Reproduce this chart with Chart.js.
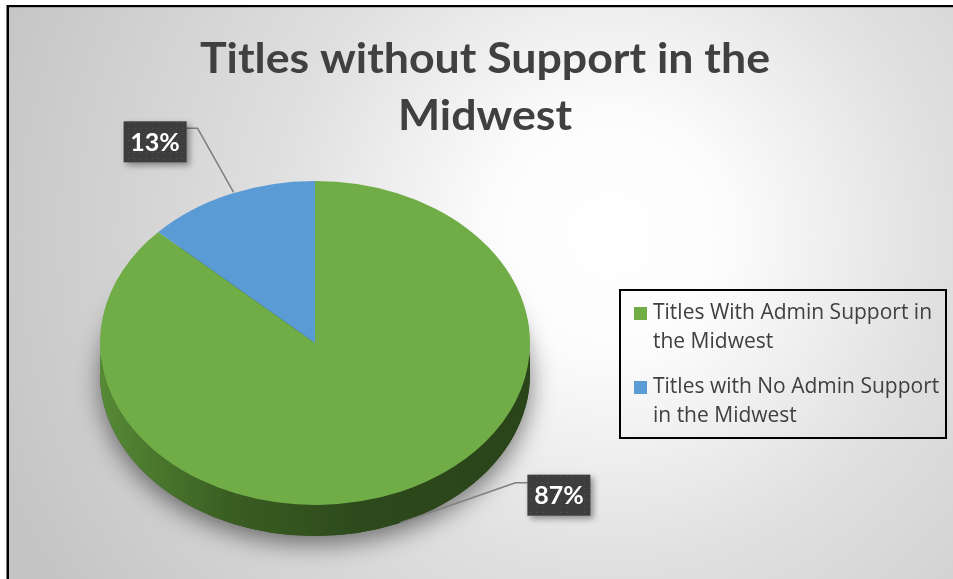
<!DOCTYPE html>
<html>
<head>
<meta charset="utf-8">
<script src="https://cdn.jsdelivr.net/npm/chart.js@4.4.1/dist/chart.umd.min.js"></script>
<style>
  html, body { margin: 0; padding: 0; background: #fff; }
  canvas { display: block; }
</style>
</head>
<body>
<canvas id="pieChart" width="953" height="579"></canvas>
<script>
// data
const titleLines = ['Titles without Support in the', 'Midwest'];
const categories = ['Titles With Admin Support in the Midwest', 'Titles with No Admin Support in the Midwest'];
const legendLines = [['Titles With Admin Support in', 'the Midwest'], ['Titles with No Admin Support', 'in the Midwest']];
const shares = [87, 13];
const sliceColors = ['#70AD47', '#5B9BD5'];
const sideColors = [['#568a35', '#3a5e22', '#2d4a1c', '#2a4419'], ['#4a7cab', '#365d85', '#2b4b6b', '#284562']];

const SQUASH = 162 / 215;   // tilt of the 3d pie
const DEPTH = 31;

function makeDotPattern(ctx) {
    const c = document.createElement('canvas');
    c.width = 6; c.height = 6;
    const p = c.getContext('2d');
    p.fillStyle = '#3d3d3d';
    p.fillRect(0, 0, 6, 6);
    p.fillStyle = '#555555';
    p.fillRect(2, 2, 1, 1);
    return ctx.createPattern(c, 'repeat');
}

function frontRange(s, e) {
    // part of a slice that faces the viewer (lower half of the ellipse)
    for (let k = -1; k <= 1; k++) {
        const lo = Math.max(s, 2 * Math.PI * k), hi = Math.min(e, Math.PI + 2 * Math.PI * k);
        if (hi > lo) return [lo, hi];
    }
    return null;
}

const pie3d = {
    id: 'pie3d',
    beforeDraw(chart) {
        const ctx = chart.ctx, W = chart.width, H = chart.height;
        ctx.save();
        ctx.fillStyle = '#ffffff';
        ctx.fillRect(0, 0, W, H);
        ctx.fillStyle = '#000000';
        ctx.fillRect(7, 5, W, 2.5);
        ctx.fillRect(6.5, 5, 2.5, H);
        const g = ctx.createRadialGradient(610, 235, 0, 610, 235, 660);
        g.addColorStop(0, '#ffffff');
        g.addColorStop(0.18, '#fcfcfc');
        g.addColorStop(0.5, '#e0e0e0');
        g.addColorStop(1, '#c4c4c4');
        ctx.fillStyle = g;
        ctx.fillRect(9, 7.5, W - 9, H - 7.5);

        // title
        ctx.fillStyle = '#404040';
        ctx.font = 'bold 42px Lato';
        ctx.textAlign = 'center';
        ctx.textBaseline = 'alphabetic';
        const w0 = ctx.measureText(titleLines[0]).width;
        const sx = 570 / w0;
        ctx.translate(485, 0);
        ctx.scale(sx, 1);
        ctx.fillText(titleLines[0], 0, 73);
        ctx.fillText(titleLines[1], 0, 130);
        ctx.restore();
    },
    beforeDatasetsDraw(chart) {
        const ctx = chart.ctx;
        const arcs = chart.getDatasetMeta(0).data;
        if (!arcs.length) return;
        const {x, y, outerRadius} = arcs[0].getProps(['x', 'y', 'outerRadius'], true);
        const rx = outerRadius, ry = outerRadius * SQUASH;

        // soft shadow under the body
        ctx.save();
        ctx.shadowColor = 'rgba(0,0,0,0.5)';
        ctx.shadowBlur = 24;
        ctx.shadowOffsetY = 8;
        ctx.fillStyle = '#2d4a1c';
        ctx.beginPath();
        ctx.ellipse(x, y + DEPTH, rx, ry, 0, 0, Math.PI * 2);
        ctx.fill();
        ctx.restore();

        // side walls
        arcs.forEach((arc, i) => {
            const {startAngle, endAngle} = arc.getProps(['startAngle', 'endAngle'], true);
            const r = frontRange(startAngle, endAngle);
            if (!r) return;
            const g = ctx.createLinearGradient(x - rx, 0, x + rx, 0);
            const sc = sideColors[i];
            g.addColorStop(0, sc[0]);
            g.addColorStop(0.3, sc[1]);
            g.addColorStop(0.6, sc[2]);
            g.addColorStop(1, sc[3]);
            ctx.save();
            ctx.fillStyle = g;
            ctx.beginPath();
            ctx.ellipse(x, y, rx, ry, 0, r[0], r[1], false);
            ctx.ellipse(x, y + DEPTH, rx, ry, 0, r[1], r[0], true);
            ctx.closePath();
            ctx.fill();
            ctx.restore();
        });

        // squash the top face
        ctx.save();
        ctx.translate(0, y);
        ctx.scale(1, SQUASH);
        ctx.translate(0, -y);
    },
    afterDatasetsDraw(chart) {
        const ctx = chart.ctx;
        ctx.restore();
        const arcs = chart.getDatasetMeta(0).data;
        const pattern = makeDotPattern(ctx);
        arcs.forEach((arc, i) => {
            const {x, y, startAngle, endAngle, outerRadius} = arc.getProps(['x', 'y', 'startAngle', 'endAngle', 'outerRadius'], true);
            const mid = (startAngle + endAngle) / 2;
            const ax = x + Math.cos(mid) * outerRadius;
            let ay = y + Math.sin(mid) * outerRadius * SQUASH;
            if (Math.sin(mid) > 0) ay += DEPTH;
            const text = shares[i] + '%';
            const bw = 63, bh = 41;
            let bx, by, pts;
            if (Math.cos(mid) < 0 && Math.sin(mid) < 0) {
                bx = ax - 43 - bw; by = ay - 73;
                pts = [[ax + 4, ay - 2], [bx + bw + 11, by + 7], [bx + bw, by + 7]];
            } else {
                bx = ax + 127; by = ay - 48;
                pts = [[ax, ay], [bx - 12, by + 8], [bx, by + 8]];
            }
            ctx.save();
            ctx.strokeStyle = '#7f7f7f';
            ctx.lineWidth = 1.5;
            ctx.beginPath();
            pts.forEach((p, k) => k ? ctx.lineTo(p[0], p[1]) : ctx.moveTo(p[0], p[1]));
            ctx.stroke();
            ctx.shadowColor = 'rgba(0,0,0,0.4)';
            ctx.shadowBlur = 6;
            ctx.shadowOffsetX = 3;
            ctx.shadowOffsetY = 3;
            ctx.fillStyle = pattern;
            ctx.fillRect(bx, by, bw, bh);
            ctx.shadowColor = 'transparent';
            ctx.fillStyle = '#ffffff';
            ctx.font = 'bold 25px Lato';
            ctx.textAlign = 'center';
            ctx.textBaseline = 'middle';
            ctx.fillText(text, bx + bw / 2, by + bh / 2 + 1);
            ctx.restore();
        });
    },
    afterDraw(chart) {
        // legend box at right
        const ctx = chart.ctx;
        ctx.save();
        ctx.strokeStyle = '#000000';
        ctx.lineWidth = 2;
        ctx.strokeRect(620, 290, 326, 148);
        ctx.font = '21px "Open Sans"';
        ctx.textBaseline = 'middle';
        ctx.textAlign = 'left';
        legendLines.forEach((lines, i) => {
            const top = 313 + i * 74;
            ctx.fillStyle = sliceColors[i];
            ctx.fillRect(634, top - 6, 13, 13);
            ctx.fillStyle = '#404040';
            lines.forEach((ln, k) => ctx.fillText(ln, 653, top + k * 29));
        });
        ctx.restore();
    }
};

new Chart(document.getElementById('pieChart'), {
    type: 'pie',
    data: {
        labels: categories,
        datasets: [{
            data: shares,
            backgroundColor: sliceColors,
            borderWidth: 0,
            hoverOffset: 0
        }]
    },
    options: {
        responsive: false,
        animation: false,
        events: [],
        layout: { padding: { left: 100, right: 423, top: 128, bottom: 21 } },
        plugins: {
            legend: { display: false },
            title: { display: false },
            tooltip: { enabled: false }
        }
    },
    plugins: [pie3d]
});
</script>
</body>
</html>
